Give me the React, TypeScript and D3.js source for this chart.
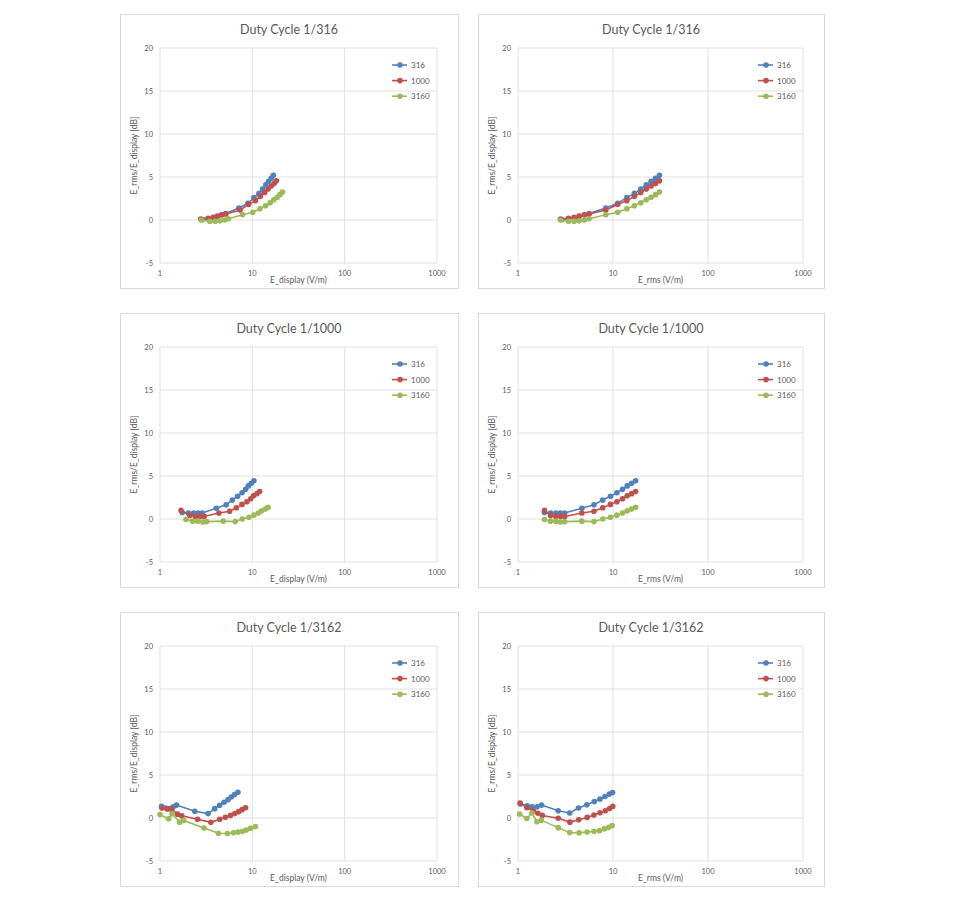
import * as d3 from "d3"

const seriesNames = ["316", "1000", "3160"]
const seriesColors = ["#4F81BD", "#C0504D", "#9BBB59"]
const xTicks = [1, 10, 100, 1000]
const yTicks = [-5, 0, 5, 10, 15, 20]

// Duty cycle 1/316 (order: 316, 1000, 3160)
const dc316_dB = [
  [0.05, 0.15, 0.25, 0.4, 0.6, 0.75, 1.4, 1.95, 2.6, 3.1, 3.6, 4.1, 4.5, 4.85, 5.2],
  [0.12, 0.2, 0.3, 0.45, 0.6, 0.7, 1.15, 1.8, 2.25, 2.75, 3.2, 3.6, 3.95, 4.25, 4.55],
  [0, -0.15, -0.15, -0.1, 0, 0.15, 0.6, 0.9, 1.3, 1.65, 2.0, 2.35, 2.65, 2.95, 3.25],
]
const dc316_eDisplay = [
  [2.88, 3.34, 3.79, 4.2, 4.66, 5.14, 7.15, 8.95, 10.4, 11.8, 12.9, 14.0, 15.0, 16.0, 16.9],
  [2.76, 3.32, 3.77, 4.18, 4.66, 5.17, 7.36, 9.1, 10.8, 12.2, 13.6, 14.8, 16.0, 17.2, 18.2],
  [2.8, 3.46, 3.97, 4.45, 5.0, 5.5, 7.84, 10.1, 12.1, 13.9, 15.6, 17.1, 18.6, 19.9, 21.2],
]
const dc316_eRms = [
  [2.9, 3.4, 3.9, 4.4, 5.0, 5.6, 8.4, 11.2, 14.0, 16.8, 19.6, 22.4, 25.2, 28.0, 30.8],
  [2.8, 3.4, 3.9, 4.4, 5.0, 5.6, 8.4, 11.2, 14.0, 16.8, 19.6, 22.4, 25.2, 28.0, 30.8],
  [2.8, 3.4, 3.9, 4.4, 5.0, 5.6, 8.4, 11.2, 14.0, 16.8, 19.6, 22.4, 25.2, 28.0, 30.8],
]

// Duty cycle 1/1000
const dc1000_dB = [
  [0.75, 0.7, 0.7, 0.7, 0.7, 1.25, 1.65, 2.2, 2.65, 3.05, 3.45, 3.85, 4.15, 4.45],
  [1.0, 0.4, 0.3, 0.3, 0.3, 0.7, 0.9, 1.3, 1.7, 2.0, 2.35, 2.7, 2.95, 3.2],
  [-0.05, -0.25, -0.25, -0.35, -0.3, -0.25, -0.3, 0.0, 0.2, 0.45, 0.7, 0.95, 1.15, 1.35],
]
const dc1000_eDisplay = [
  [1.74, 2.03, 2.31, 2.58, 2.86, 4.07, 5.21, 6.06, 6.93, 7.74, 8.47, 9.05, 9.74, 10.4],
  [1.69, 2.1, 2.42, 2.7, 3.0, 4.34, 5.68, 6.72, 7.73, 8.74, 9.61, 10.3, 11.2, 12.0],
  [1.91, 2.26, 2.57, 2.91, 3.21, 4.84, 6.52, 7.8, 9.19, 10.4, 11.6, 12.6, 13.8, 14.8],
]
const dc1000_eRms = [
  [1.9, 2.2, 2.5, 2.8, 3.1, 4.7, 6.3, 7.8, 9.4, 11.0, 12.6, 14.1, 15.7, 17.3],
  [1.9, 2.2, 2.5, 2.8, 3.1, 4.7, 6.3, 7.8, 9.4, 11.0, 12.6, 14.1, 15.7, 17.3],
  [1.9, 2.2, 2.5, 2.8, 3.1, 4.7, 6.3, 7.8, 9.4, 11.0, 12.6, 14.1, 15.7, 17.3],
]

// Duty cycle 1/3162, read separately for each chart
const dc3162_dB_display = [
  [1.35, 1.15, 1.1, 1.3, 1.5, 0.78, 0.51, 1.09, 1.48, 1.83, 2.14, 2.44, 2.72, 2.99],
  [1.15, 1.05, 1.0, 0.45, 0.25, -0.15, -0.5, -0.15, 0.08, 0.3, 0.51, 0.74, 0.97, 1.2],
  [0.4, -0.1, 0.5, -0.48, -0.28, -1.16, -1.78, -1.8, -1.72, -1.64, -1.55, -1.4, -1.2, -1.0],
]
const dc3162_eDisplay = [
  [1.04, 1.15, 1.27, 1.39, 1.51, 2.38, 3.32, 3.91, 4.43, 4.94, 5.46, 5.92, 6.42, 6.98],
  [1.05, 1.2, 1.34, 1.55, 1.72, 2.55, 3.55, 4.43, 5.1, 5.8, 6.45, 7.1, 7.75, 8.45],
  [1.0, 1.24, 1.35, 1.63, 1.8, 3.0, 4.3, 5.38, 6.25, 7.0, 7.8, 8.6, 9.6, 10.8],
]
const dc3162_dB_rms = [
  [1.62, 1.43, 1.31, 1.31, 1.5, 0.85, 0.58, 1.16, 1.54, 1.92, 2.2, 2.5, 2.78, 2.97],
  [1.75, 1.2, 0.85, 0.55, 0.3, -0.03, -0.48, -0.2, 0.07, 0.35, 0.6, 0.85, 1.1, 1.35],
  [0.46, -0.05, 0.58, -0.43, -0.27, -1.12, -1.7, -1.72, -1.63, -1.55, -1.47, -1.27, -1.09, -0.89],
]
const dc3162_eRms = [
  [1.06, 1.25, 1.41, 1.59, 1.77, 2.65, 3.5, 4.33, 5.31, 6.35, 7.3, 8.24, 9.14, 9.9],
  [1.05, 1.24, 1.45, 1.62, 1.8, 2.65, 3.52, 4.35, 5.35, 6.3, 7.3, 8.3, 9.2, 9.95],
  [1.04, 1.24, 1.4, 1.58, 1.76, 2.65, 3.5, 4.4, 5.35, 6.3, 7.2, 8.1, 9.0, 9.8],
]

const titles = ["Duty Cycle 1/316", "Duty Cycle 1/1000", "Duty Cycle 1/3162"]
const xLabels = ["E_display (V/m)", "E_rms (V/m)"]
const yLabel = "E_rms/E_display [dB]"

const font = "Lato, 'Open Sans', sans-serif"
const textColor = "#595959"
const gridColor = "#D9D9D9"

type PanelProps = {
  title: string
  xLabel: string
  xs: number[][]
  ys: number[][]
  x0: number
  y0: number
  w: number
  h: number
}

function Panel({ title, xLabel, xs, ys, x0, y0, w, h }: PanelProps) {
  const left = x0 + 40
  const right = x0 + w - 21
  const top = y0 + 34
  const bottom = y0 + 249

  const x = d3.scaleLog().domain([1, 1000]).range([left, right])
  const y = d3.scaleLinear().domain([-5, 20]).range([bottom, top])

  const line = d3
    .line<[number, number]>()
    .x((d) => x(d[0]))
    .y((d) => y(d[1]))

  const series = seriesNames.map((name, i) => ({
    name,
    color: seriesColors[i],
    pts: xs[i].map((v, j) => [v, ys[i][j]] as [number, number]),
  }))

  const legendX = right - 45

  return (
    <g fontFamily={font}>
      <rect x={x0 + 0.5} y={y0 + 0.5} width={w} height={h} fill="#fff" stroke={gridColor} />
      <text
        x={x0 + w / 2}
        y={y0 + 20}
        textAnchor="middle"
        fontSize={12.5}
        fill={textColor}
      >
        {title}
      </text>

      {yTicks.map((t) => (
        <g key={t}>
          <line x1={left} x2={right} y1={y(t)} y2={y(t)} stroke={gridColor} strokeWidth={0.8} />
          <text
            x={left - 7}
            y={y(t)}
            textAnchor="end"
            dominantBaseline="central"
            fontSize={7.5}
            fill={textColor}
          >
            {t}
          </text>
        </g>
      ))}

      {xTicks.map((t) => (
        <g key={t}>
          <line x1={x(t)} x2={x(t)} y1={top} y2={bottom} stroke={gridColor} strokeWidth={0.8} />
          <text x={x(t)} y={bottom + 13} textAnchor="middle" fontSize={7.5} fill={textColor}>
            {t}
          </text>
        </g>
      ))}

      <text
        x={(left + right) / 2}
        y={bottom + 20}
        textAnchor="middle"
        fontSize={8.5}
        fill={textColor}
      >
        {xLabel}
      </text>
      <text
        transform={`translate(${x0 + 17},${(top + bottom) / 2}) rotate(-90)`}
        textAnchor="middle"
        fontSize={8.5}
        fill={textColor}
      >
        {yLabel}
      </text>

      {series.map((s) => (
        <g key={s.name}>
          <path d={line(s.pts) ?? ""} fill="none" stroke={s.color} strokeWidth={1.6} />
          {s.pts.map((p, j) => (
            <circle key={j} cx={x(p[0])} cy={y(p[1])} r={2.8} fill={s.color} />
          ))}
        </g>
      ))}

      {series.map((s, i) => {
        const ly = y0 + 51 + i * 15.6
        return (
          <g key={s.name}>
            <line x1={legendX} x2={legendX + 15} y1={ly} y2={ly} stroke={s.color} strokeWidth={1.6} />
            <circle cx={legendX + 8} cy={ly} r={2.8} fill={s.color} />
            <text
              x={legendX + 19}
              y={ly}
              dominantBaseline="central"
              fontSize={8}
              fill={textColor}
            >
              {s.name}
            </text>
          </g>
        )
      })}
    </g>
  )
}

export default function App() {
  const rowTops = [14, 313, 612]
  const cols = [
    { x0: 120, w: 338 },
    { x0: 478, w: 346 },
  ]
  const data = [
    [
      { xs: dc316_eDisplay, ys: dc316_dB },
      { xs: dc316_eRms, ys: dc316_dB },
    ],
    [
      { xs: dc1000_eDisplay, ys: dc1000_dB },
      { xs: dc1000_eRms, ys: dc1000_dB },
    ],
    [
      { xs: dc3162_eDisplay, ys: dc3162_dB_display },
      { xs: dc3162_eRms, ys: dc3162_dB_rms },
    ],
  ]

  return (
    <div style={{ position: "absolute", left: 0, top: 0 }}>
      <svg width={960} height={901} viewBox="0 0 960 901" style={{ display: "block" }}>
        <rect width={960} height={901} fill="#fff" />
        {data.map((row, r) =>
          row.map((p, c) => (
            <Panel
              key={`${r}-${c}`}
              title={titles[r]}
              xLabel={xLabels[c]}
              xs={p.xs}
              ys={p.ys}
              x0={cols[c].x0}
              y0={rowTops[r]}
              w={cols[c].w}
              h={274}
            />
          )),
        )}
      </svg>
    </div>
  )
}
